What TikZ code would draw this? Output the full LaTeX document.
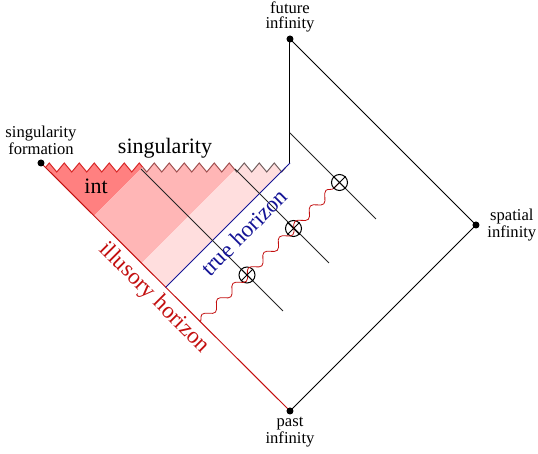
\documentclass[tikz,border=0pt]{standalone}
\usepackage{fontspec}
\setmainfont{Liberation Serif}
\usetikzlibrary{positioning,decorations.pathmorphing}
\definecolor{intred}{RGB}{255,128,128}
\definecolor{midred}{RGB}{255,182,182}
\definecolor{lightred}{RGB}{255,222,222}
\definecolor{zigint}{RGB}{215,40,40}
\definecolor{zigmid}{RGB}{160,80,80}
\definecolor{ziglt}{RGB}{115,95,95}
\definecolor{horblue}{RGB}{20,20,150}
\definecolor{illred}{RGB}{195,15,15}

\begin{document}
\begin{tikzpicture}[x=0.5pt, y=-0.5pt,
  bnd/.style={line width=0.5pt},
  ray/.style={line width=0.5pt, black!85},
  dotlbl/.style={font={\fontsize{8.3}{7.2}\selectfont}, align=center, inner sep=0pt},
  biglbl/.style={font={\fontsize{11}{13}\selectfont}, inner sep=0pt},
  horlbl/.style={font={\fontsize{11.5}{13}\selectfont}, inner sep=0pt},
  otimes/.style={circle, draw, line width=0.5pt, minimum size=8pt, inner sep=0pt},
  sing/.style={decoration={zigzag, segment length=7.5pt, amplitude=2.25pt}},
  wave/.style={decorate, decoration={snake, segment length=10.95pt, amplitude=2pt},
    illred, line width=0.4pt}]
  \useasboundingbox (0,0) rectangle (538,454);
  % corners of the diagram
  \coordinate (fut) at (290,39);
  \coordinate (spat) at (476,225);
  \coordinate (past) at (290,411);
  \coordinate (form) at (41,163);
  \coordinate (corner) at (290,163);
  \coordinate (bot) at (165.5,287.5);
  % ends of the singularity
  \coordinate (sl) at (45.5,167.5);
  \coordinate (sr) at (285.5,167.5);
  % shaded interior, three bands
  \foreach \lo/\hi/\fc/\zc in {0/310/intred/zigint, 310/405/midred/zigmid, 405/480/lightred/ziglt} {
    \begin{scope}
      \clip (\lo,0) -- (\hi,0) -- (0,\hi) -- (0,\lo) -- cycle;
      \fill[\fc] (sl) decorate[sing]{-- (sr)} -- (bot) -- cycle;
      \draw[\zc, line width=0.5pt] (sl) decorate[sing]{-- (sr)};
    \end{scope}
  }
  % outline
  \draw[bnd] (fut) -- (spat) -- (past);
  \draw[bnd] (fut) -- (corner);
  \draw[bnd, illred] (form) -- (past);
  \draw[bnd, horblue] (corner) -- (bot);
  % rays from the singularity
  \coordinate (r1s) at (141,169);
  \coordinate (r1e) at (283,311);
  \coordinate (r2s) at (235,169);
  \coordinate (r2e) at (329,263);
  \coordinate (r3s) at (290,133);
  \coordinate (r3e) at (376,219);
  \draw[ray] (r1s) -- (r1e);
  \draw[ray] (r2s) -- (r2e);
  \draw[ray] (r3s) -- (r3e);
  % radiation and crossings
  \coordinate (w0) at (200,322);
  \node[otimes] (c1) at (247,275) {};
  \node[otimes] (c2) at (293.5,228.5) {};
  \node[otimes] (c3) at (339.5,182.5) {};
  \draw[wave] (w0) -- (c3.center);
  \foreach \c in {c1,c2,c3}
    \draw[line width=0.5pt] (\c.south west) -- (\c.north east)
      (\c.north west) -- (\c.south east);
  % dots
  \foreach \p in {fut,spat,past,form}
    \fill (\p) circle (3.5);
  % labels
  \node[dotlbl, above=3.5pt of fut] (futlbl) {future\\infinity};
  \node[dotlbl, right=5.5pt of spat] (spatlbl) {spatial\\infinity};
  \node[dotlbl, below=3pt of past] (pastlbl) {past\\infinity};
  \node[dotlbl, above=4pt of form] (formlbl) {singularity\\formation};
  \node[biglbl] (singlbl) at (165,148) {singularity};
  \node[biglbl] (intlbl) at (96,186) {int};
  \node[horlbl, horblue, rotate=45] (truelbl) at (244,232) {true horizon};
  \node[horlbl, illred, rotate=-45] (illlbl) at (154,298) {illusory horizon};
\end{tikzpicture}
\end{document}
